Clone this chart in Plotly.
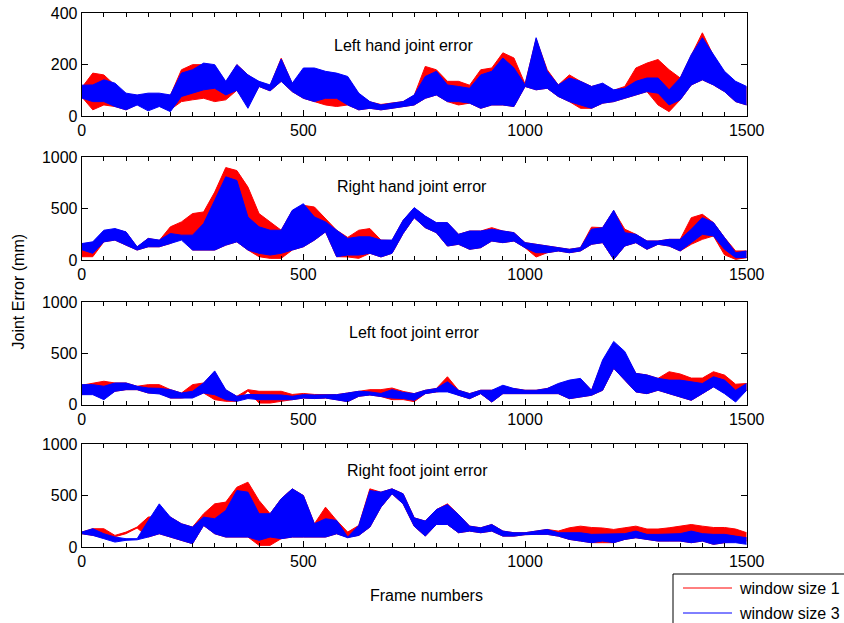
import plotly.graph_objects as go

# ---------------- data ----------------
frames = list(range(0, 1501, 25))
titles = ["Left hand joint error", "Right hand joint error",
          "Left foot joint error", "Right foot joint error"]
x_tick_vals = [0, 500, 1000, 1500]
legend_labels = ["window size 1", "window size 3"]

# Left hand (envelopes of the oscillating curves)
lh_red_hi = [110,167,160,120,85,80,85,85,80,180,200,200,195,130,200,160,130,118,225,125,
             180,180,148,150,150,85,55,45,50,56,80,193,180,135,135,120,180,187,246,226,
             125,300,180,121,160,135,115,125,100,115,187,206,220,180,148,235,324,235,170,130,110]
lh_red_lo = [75,24,43,37,24,45,30,40,25,56,63,69,56,63,100,40,115,98,135,95,
             69,56,43,37,43,24,30,24,30,37,43,69,82,56,43,50,30,43,43,37,
             115,102,108,76,56,30,30,50,56,69,82,95,43,17,63,121,141,121,95,56,43]
lh_blue_hi = [120,121,141,128,89,82,89,89,82,167,180,206,200,135,200,160,135,121,222,128,
              187,187,174,167,154,89,56,43,50,56,82,154,174,121,115,108,160,174,226,187,
              121,305,174,121,148,135,115,128,102,108,135,148,148,102,148,239,305,239,174,135,115]
lh_blue_lo = [70,56,56,37,24,43,20,37,17,76,89,102,108,82,100,30,115,98,135,95,
              69,56,69,69,43,24,30,24,30,37,43,69,82,56,56,50,30,43,43,37,
              115,102,108,76,56,43,30,50,56,69,82,95,89,43,63,121,141,121,95,56,43]

# Right hand
rh_red_hi = [150,170,258,300,270,125,210,190,323,371,452,468,661,900,871,710,452,371,290,480,
             532,516,403,290,220,290,306,194,190,385,505,425,360,360,250,282,282,315,282,266,
             169,153,136,120,104,120,320,315,480,300,250,185,185,201,201,412,445,364,218,88,88]
rh_red_lo = [32,32,177,194,145,97,129,129,161,226,97,97,97,145,177,97,32,16,16,97,
             129,194,274,32,30,16,65,30,65,258,412,315,266,136,153,104,120,185,169,185,
             120,29,71,88,71,88,153,169,6,136,169,104,153,136,88,153,201,234,50,6,23]
rh_blue_hi = [160,177,290,306,274,129,210,194,258,242,242,355,581,810,774,419,323,290,290,484,
              548,419,371,290,210,226,226,194,194,387,510,428,364,364,250,282,282,299,282,266,
              169,153,136,120,104,120,299,315,484,266,250,185,185,201,201,299,412,364,218,71,88]
rh_blue_lo = [100,65,177,194,145,97,129,129,161,194,97,97,97,145,177,97,65,48,65,97,
              129,194,274,32,48,48,65,30,65,258,412,315,266,136,153,104,120,185,169,185,
              120,71,71,88,71,88,153,169,6,136,169,104,153,136,88,169,250,234,104,23,23]

# Left foot
lf_red_hi = [190,212,229,212,212,180,196,196,147,114,196,212,320,140,82,147,131,131,131,100,
             110,100,100,98,114,131,147,147,163,130,108,141,158,273,141,108,141,141,160,158,
             141,141,158,200,230,250,141,420,600,500,306,290,257,322,300,260,260,322,289,200,207]
lf_red_lo = [98,114,65,131,147,147,114,114,65,65,82,114,49,33,33,135,16,16,33,49,
             65,60,65,49,30,82,95,80,49,50,30,108,125,141,92,59,108,26,108,108,
             108,108,108,108,59,76,92,141,355,240,125,108,141,108,76,43,108,174,158,60,141]
lf_blue_hi = [196,196,180,212,212,180,163,160,147,114,131,212,330,147,82,100,98,98,95,82,
              98,95,95,98,114,131,125,110,147,120,108,141,158,224,141,108,141,141,190,158,
              141,141,158,207,240,257,141,437,618,520,306,290,257,240,240,224,207,273,240,141,207]
lf_blue_lo = [98,98,49,131,147,147,114,105,65,65,65,114,98,49,33,60,49,49,49,49,
              65,60,65,49,30,82,95,80,65,60,43,108,125,125,92,59,108,26,108,108,
              108,108,108,108,59,76,92,141,355,240,125,108,141,108,76,43,108,174,108,26,141]

# Right foot
rf_red_hi = [145,178,178,113,145,194,291,300,291,226,194,324,420,437,582,631,453,324,469,566,
             501,226,388,259,145,210,566,534,566,518,284,252,364,420,316,203,187,219,155,139,
             139,155,171,155,187,203,190,185,171,187,203,175,175,187,203,219,203,190,190,175,139]
rf_red_lo = [129,113,97,100,130,185,97,129,97,65,32,210,129,97,97,97,16,16,81,97,
             97,97,97,129,97,113,194,388,518,420,203,106,219,219,139,155,139,155,106,106,
             120,123,123,106,74,58,42,42,42,74,90,74,58,58,58,42,58,26,42,58,58]
rf_blue_hi = [145,178,129,97,81,81,255,420,291,226,194,291,275,356,550,534,324,324,469,566,
              501,226,275,259,97,210,550,534,566,518,284,252,364,413,316,203,187,219,155,139,
              139,155,171,139,139,139,123,123,123,130,155,123,123,130,130,155,130,123,123,106,90]
rf_blue_lo = [129,113,81,48,65,70,97,129,97,65,32,210,129,97,97,97,65,97,81,97,
              97,97,97,129,90,113,194,388,518,420,203,106,219,219,139,155,139,155,106,106,
              120,123,123,106,74,58,42,58,42,74,90,74,58,58,58,42,58,26,42,42,26]

panels = [
    (lh_red_lo, lh_red_hi, lh_blue_lo, lh_blue_hi),
    (rh_red_lo, rh_red_hi, rh_blue_lo, rh_blue_hi),
    (lf_red_lo, lf_red_hi, lf_blue_lo, lf_blue_hi),
    (rf_red_lo, rf_red_hi, rf_blue_lo, rf_blue_hi),
]
for p in panels:
    for arr in p:
        assert len(arr) == len(frames)

# ---------------- layout geometry ----------------
W, H = 844, 623
def fx(p):
    return p / W
def fy(p):
    return 1 - p / H

plot_left, plot_right = 81.7, 746.7
rows_px = [(13.3, 116.0), (157.3, 260.0), (302.3, 404.7), (444.3, 547.0)]
y_max = [400, 1000, 1000, 1000]
y_dtick = [200, 500, 500, 500]
title_xy = [(726, 276), (746, 720), (751, 710), (757, 740)]

RED = "#ff0000"
BLUE = "#0000ff"
FONT = "Liberation Sans, Arial, Helvetica, sans-serif"

fig = go.Figure()
layout = dict(
    width=W, height=H,
    margin=dict(l=0, r=0, t=0, b=0, autoexpand=False),
    paper_bgcolor="white", plot_bgcolor="white",
    showlegend=False,
    font=dict(family=FONT, size=16, color="black"),
)
annotations = []
shapes = []

for i, (rlo, rhi, blo, bhi) in enumerate(panels):
    xa = "x" if i == 0 else f"x{i+1}"
    ya = "y" if i == 0 else f"y{i+1}"
    for lo, hi, col in ((rlo, rhi, RED), (blo, bhi, BLUE)):
        fig.add_trace(go.Scatter(x=frames, y=lo, mode="lines",
                                 line=dict(color=col, width=1),
                                 xaxis=xa, yaxis=ya, hoverinfo="skip"))
        fig.add_trace(go.Scatter(x=frames, y=hi, mode="lines",
                                 line=dict(color=col, width=1),
                                 fill="tonexty", fillcolor=col,
                                 xaxis=xa, yaxis=ya, hoverinfo="skip"))
    top, bot = rows_px[i]
    common = dict(showline=True, linecolor="black", linewidth=1, mirror="allticks",
                  ticks="inside", tickcolor="black", showgrid=False, zeroline=False,
                  automargin=False,
                  tickfont=dict(family=FONT, size=16, color="black"))
    layout["xaxis" if i == 0 else f"xaxis{i+1}"] = dict(
        domain=[fx(plot_left), fx(plot_right)], range=[0, 1500],
        tickmode="linear", tick0=0, dtick=500, ticklen=6,
        minor=dict(tickmode="linear", tick0=0, dtick=50, ticks="inside",
                   ticklen=4, tickcolor="black", showgrid=False),
        anchor=ya, **common)
    layout["yaxis" if i == 0 else f"yaxis{i+1}"] = dict(
        domain=[fy(bot), fy(top)], range=[0, y_max[i]],
        tickmode="linear", tick0=0, dtick=y_dtick[i], ticklen=6,
        anchor=xa, **common)
    tx, ty = title_xy[i]
    annotations.append(dict(x=tx, y=ty, xref=xa, yref=ya, text=titles[i],
                            showarrow=False, font=dict(family=FONT, size=16, color="black"),
                            xanchor="center", yanchor="middle"))

# axis titles
annotations.append(dict(x=fx(426.7), y=fy(595), xref="paper", yref="paper",
                        text="Frame numbers", showarrow=False,
                        font=dict(family=FONT, size=16, color="black"),
                        xanchor="center", yanchor="middle"))
annotations.append(dict(x=fx(17.5), y=fy(292), xref="paper", yref="paper",
                        text="Joint Error (mm)", showarrow=False, textangle=-90,
                        font=dict(family=FONT, size=16, color="black"),
                        xanchor="center", yanchor="middle"))

# legend box (drawn like the reference: bottom-right, partly clipped)
shapes.append(dict(type="rect", xref="paper", yref="paper",
                   x0=fx(673), x1=fx(850), y0=fy(630), y1=fy(574),
                   line=dict(color="black", width=1), fillcolor="white", layer="above"))
for k, (col, yy) in enumerate(((RED, 588), (BLUE, 613))):
    shapes.append(dict(type="line", xref="paper", yref="paper",
                       x0=fx(683), x1=fx(732), y0=fy(yy), y1=fy(yy),
                       line=dict(color=col, width=1), layer="above"))
    annotations.append(dict(x=fx(737), y=fy(yy), xref="paper", yref="paper",
                            text=legend_labels[k], showarrow=False,
                            font=dict(family=FONT, size=16, color="black"),
                            xanchor="left", yanchor="middle"))

layout["annotations"] = annotations
layout["shapes"] = shapes
fig.update_layout(**layout)
fig.write_html("out.html",
               config={"displayModeBar": False},
               post_script="document.body.style.margin='0';document.body.style.overflow='hidden';")
